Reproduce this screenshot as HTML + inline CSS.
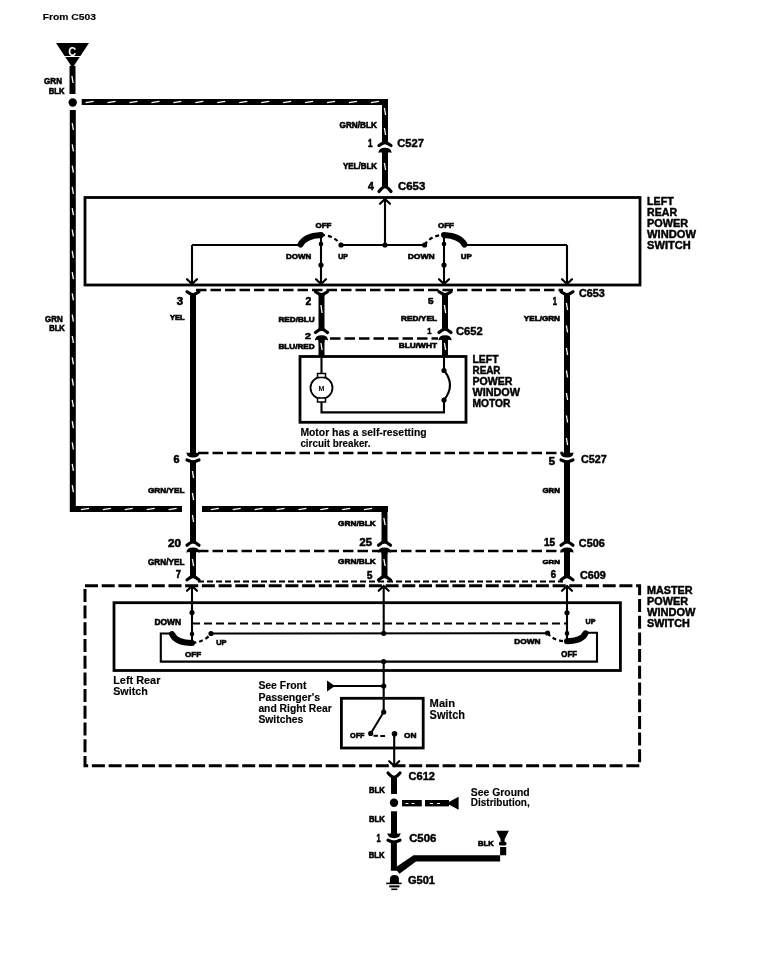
<!DOCTYPE html>
<html><head><meta charset="utf-8"><style>
html,body{margin:0;padding:0;background:#fff;width:771px;height:966px;overflow:hidden}
svg{display:block;will-change:transform}
text{font-family:"Liberation Sans",sans-serif;fill:#000}
</style></head><body>
<svg width="771" height="966" viewBox="0 0 771 966">
<rect width="771" height="966" fill="#fff"/>
<text x="42.7" y="20" font-size="9.86" font-weight="bold" textLength="53.2" lengthAdjust="spacingAndGlyphs" stroke="#000" stroke-width="0.15">From C503</text>
<path d="M56,43 L89,43 L72.5,68 Z" fill="#000"/>
<line x1="61" y1="56.5" x2="84" y2="56.5" stroke="#fff" stroke-width="1" stroke-linecap="butt"/>
<text x="68.3" y="55.6" font-size="12.5" font-weight="bold" style="fill:#fff" textLength="8" lengthAdjust="spacingAndGlyphs">C</text>
<line x1="72.5" y1="66" x2="72.5" y2="94" stroke="#000" stroke-width="6" stroke-linecap="butt"/>
<line x1="71.9" y1="76" x2="73.1" y2="83" stroke="#fff" stroke-width="1.3"/>
<text x="44" y="84" font-size="8.70" font-weight="bold" textLength="18.0" lengthAdjust="spacingAndGlyphs" stroke="#000" stroke-width="0.6">GRN</text>
<text x="48.8" y="94.3" font-size="8.26" font-weight="bold" textLength="15.6" lengthAdjust="spacingAndGlyphs" stroke="#000" stroke-width="0.6">BLK</text>
<circle cx="72.7" cy="102.5" r="4.2" fill="#000"/>
<line x1="72.8" y1="110" x2="72.8" y2="512" stroke="#000" stroke-width="6" stroke-linecap="butt"/>
<line x1="72.2" y1="123" x2="73.39999999999999" y2="130" stroke="#fff" stroke-width="1.3"/>
<line x1="72.2" y1="144.3" x2="73.39999999999999" y2="151.3" stroke="#fff" stroke-width="1.3"/>
<line x1="72.2" y1="165.60000000000002" x2="73.39999999999999" y2="172.60000000000002" stroke="#fff" stroke-width="1.3"/>
<line x1="72.2" y1="186.90000000000003" x2="73.39999999999999" y2="193.90000000000003" stroke="#fff" stroke-width="1.3"/>
<line x1="72.2" y1="208.20000000000005" x2="73.39999999999999" y2="215.20000000000005" stroke="#fff" stroke-width="1.3"/>
<line x1="72.2" y1="229.50000000000006" x2="73.39999999999999" y2="236.50000000000006" stroke="#fff" stroke-width="1.3"/>
<line x1="72.2" y1="250.80000000000007" x2="73.39999999999999" y2="257.80000000000007" stroke="#fff" stroke-width="1.3"/>
<line x1="72.2" y1="272.1000000000001" x2="73.39999999999999" y2="279.1000000000001" stroke="#fff" stroke-width="1.3"/>
<line x1="72.2" y1="293.4000000000001" x2="73.39999999999999" y2="300.4000000000001" stroke="#fff" stroke-width="1.3"/>
<line x1="72.2" y1="314.7000000000001" x2="73.39999999999999" y2="321.7000000000001" stroke="#fff" stroke-width="1.3"/>
<line x1="72.2" y1="336.0000000000001" x2="73.39999999999999" y2="343.0000000000001" stroke="#fff" stroke-width="1.3"/>
<line x1="72.2" y1="357.3000000000001" x2="73.39999999999999" y2="364.3000000000001" stroke="#fff" stroke-width="1.3"/>
<line x1="72.2" y1="378.60000000000014" x2="73.39999999999999" y2="385.60000000000014" stroke="#fff" stroke-width="1.3"/>
<line x1="72.2" y1="399.90000000000015" x2="73.39999999999999" y2="406.90000000000015" stroke="#fff" stroke-width="1.3"/>
<line x1="72.2" y1="421.20000000000016" x2="73.39999999999999" y2="428.20000000000016" stroke="#fff" stroke-width="1.3"/>
<line x1="72.2" y1="442.50000000000017" x2="73.39999999999999" y2="449.50000000000017" stroke="#fff" stroke-width="1.3"/>
<line x1="72.2" y1="463.8000000000002" x2="73.39999999999999" y2="470.8000000000002" stroke="#fff" stroke-width="1.3"/>
<line x1="72.2" y1="485.1000000000002" x2="73.39999999999999" y2="492.1000000000002" stroke="#fff" stroke-width="1.3"/>
<text x="45" y="321.5" font-size="8.99" font-weight="bold" textLength="17.7" lengthAdjust="spacingAndGlyphs" stroke="#000" stroke-width="0.6">GRN</text>
<text x="49.2" y="331.3" font-size="8.26" font-weight="bold" textLength="15.6" lengthAdjust="spacingAndGlyphs" stroke="#000" stroke-width="0.6">BLK</text>
<line x1="81.7" y1="102" x2="388" y2="102" stroke="#000" stroke-width="6" stroke-linecap="butt"/>
<line x1="85.60000000000001" y1="102.6" x2="93.60000000000001" y2="101.4" stroke="#fff" stroke-width="1.3"/>
<line x1="107.55000000000001" y1="102.6" x2="115.55000000000001" y2="101.4" stroke="#fff" stroke-width="1.3"/>
<line x1="129.5" y1="102.6" x2="137.5" y2="101.4" stroke="#fff" stroke-width="1.3"/>
<line x1="151.45" y1="102.6" x2="159.45" y2="101.4" stroke="#fff" stroke-width="1.3"/>
<line x1="173.39999999999998" y1="102.6" x2="181.39999999999998" y2="101.4" stroke="#fff" stroke-width="1.3"/>
<line x1="195.34999999999997" y1="102.6" x2="203.34999999999997" y2="101.4" stroke="#fff" stroke-width="1.3"/>
<line x1="217.29999999999995" y1="102.6" x2="225.29999999999995" y2="101.4" stroke="#fff" stroke-width="1.3"/>
<line x1="239.24999999999994" y1="102.6" x2="247.24999999999994" y2="101.4" stroke="#fff" stroke-width="1.3"/>
<line x1="261.19999999999993" y1="102.6" x2="269.19999999999993" y2="101.4" stroke="#fff" stroke-width="1.3"/>
<line x1="283.1499999999999" y1="102.6" x2="291.1499999999999" y2="101.4" stroke="#fff" stroke-width="1.3"/>
<line x1="305.0999999999999" y1="102.6" x2="313.0999999999999" y2="101.4" stroke="#fff" stroke-width="1.3"/>
<line x1="327.0499999999999" y1="102.6" x2="335.0499999999999" y2="101.4" stroke="#fff" stroke-width="1.3"/>
<line x1="348.9999999999999" y1="102.6" x2="356.9999999999999" y2="101.4" stroke="#fff" stroke-width="1.3"/>
<line x1="370.9499999999999" y1="102.6" x2="378.9499999999999" y2="101.4" stroke="#fff" stroke-width="1.3"/>
<line x1="385" y1="99" x2="385" y2="143" stroke="#000" stroke-width="6" stroke-linecap="butt"/>
<line x1="384.4" y1="108" x2="385.6" y2="115" stroke="#fff" stroke-width="1.3"/>
<line x1="384.4" y1="128" x2="385.6" y2="135" stroke="#fff" stroke-width="1.3"/>
<text x="339.5" y="127.6" font-size="8.41" font-weight="bold" textLength="37.5" lengthAdjust="spacingAndGlyphs" stroke="#000" stroke-width="0.6">GRN/BLK</text>
<path d="M379,145.5 Q382.5,143.0 385,142.5 Q387.5,143.0 391,145.5" fill="none" stroke="#000" stroke-width="3.2" stroke-linecap="round"/>
<line x1="385" y1="141.5" x2="385" y2="144.1" stroke="#000" stroke-width="5.8" stroke-linecap="butt"/>
<text x="368" y="147" font-size="10.14" font-weight="bold" textLength="4.5" lengthAdjust="spacingAndGlyphs" stroke="#000" stroke-width="0.6">1</text>
<text x="397.2" y="147" font-size="11.59" font-weight="bold" textLength="26.8" lengthAdjust="spacingAndGlyphs" stroke="#000" stroke-width="0.45">C527</text>
<path d="M378.4,153.0 Q378.6,147.8 385,147.8 Q391.4,147.8 391.6,153.0 Q389,151.8 387.9,152.8 L387.9,154.8 L382.1,154.8 L382.1,152.8 Q381,151.8 378.4,153.0 Z" fill="#000"/>
<line x1="385" y1="151" x2="385" y2="187" stroke="#000" stroke-width="6" stroke-linecap="butt"/>
<line x1="384.4" y1="163" x2="385.6" y2="170" stroke="#fff" stroke-width="1.3"/>
<text x="343" y="169" font-size="8.70" font-weight="bold" textLength="34.0" lengthAdjust="spacingAndGlyphs" stroke="#000" stroke-width="0.6">YEL/BLK</text>
<path d="M379,191.5 Q382.5,187.0 385,186.5 Q387.5,187.0 391,191.5" fill="none" stroke="#000" stroke-width="3.2" stroke-linecap="round"/>
<line x1="385" y1="185.5" x2="385" y2="188.1" stroke="#000" stroke-width="5.8" stroke-linecap="butt"/>
<text x="368" y="190" font-size="10.14" font-weight="bold" textLength="5.8" lengthAdjust="spacingAndGlyphs" stroke="#000" stroke-width="0.6">4</text>
<text x="398" y="190.2" font-size="11.16" font-weight="bold" textLength="27.3" lengthAdjust="spacingAndGlyphs" stroke="#000" stroke-width="0.45">C653</text>
<rect x="85" y="197.5" width="555" height="87.5" fill="none" stroke="#000" stroke-width="2.8"/>
<text x="647.1" y="204.8" font-size="10.72" font-weight="bold" textLength="26.6" lengthAdjust="spacingAndGlyphs" stroke="#000" stroke-width="0.45">LEFT</text>
<text x="647.1" y="215.8" font-size="10.72" font-weight="bold" textLength="30.0" lengthAdjust="spacingAndGlyphs" stroke="#000" stroke-width="0.45">REAR</text>
<text x="647.1" y="226.8" font-size="10.72" font-weight="bold" textLength="41.0" lengthAdjust="spacingAndGlyphs" stroke="#000" stroke-width="0.45">POWER</text>
<text x="647.1" y="237.8" font-size="10.72" font-weight="bold" textLength="48.8" lengthAdjust="spacingAndGlyphs" stroke="#000" stroke-width="0.45">WINDOW</text>
<text x="647.1" y="248.8" font-size="10.72" font-weight="bold" textLength="43.6" lengthAdjust="spacingAndGlyphs" stroke="#000" stroke-width="0.45">SWITCH</text>
<polyline points="380,203.8 385,199 390,203.8" fill="none" stroke="#000" stroke-width="2.2" stroke-linecap="round" stroke-linejoin="miter"/>
<line x1="385" y1="199" x2="385" y2="245" stroke="#000" stroke-width="2.1" stroke-linecap="butt"/>
<circle cx="385" cy="245" r="2.6" fill="#000"/>
<line x1="192" y1="245" x2="300" y2="245" stroke="#000" stroke-width="2.1" stroke-linecap="butt"/>
<line x1="341" y1="245" x2="424.6" y2="245" stroke="#000" stroke-width="2.1" stroke-linecap="butt"/>
<line x1="465" y1="245" x2="567" y2="245" stroke="#000" stroke-width="2.1" stroke-linecap="butt"/>
<line x1="192" y1="245" x2="192" y2="284" stroke="#000" stroke-width="2.1" stroke-linecap="butt"/>
<polyline points="187,279.2 192,284 197,279.2" fill="none" stroke="#000" stroke-width="2.2" stroke-linecap="round" stroke-linejoin="miter"/>
<line x1="567" y1="245" x2="567" y2="284" stroke="#000" stroke-width="2.1" stroke-linecap="butt"/>
<polyline points="562,279.2 567,284 572,279.2" fill="none" stroke="#000" stroke-width="2.2" stroke-linecap="round" stroke-linejoin="miter"/>
<path d="M300.5,244.5 Q305,236 321,235" fill="none" stroke="#000" stroke-width="6" stroke-linecap="round"/>
<path d="M321,235 Q334,235 341,245" fill="none" stroke="#000" stroke-width="2.2" stroke-linecap="butt" stroke-dasharray="4,3"/>
<circle cx="341" cy="245" r="2.6" fill="#000"/>
<line x1="321" y1="235" x2="321" y2="284" stroke="#000" stroke-width="2.1" stroke-linecap="butt"/>
<polyline points="316,279.2 321,284 326,279.2" fill="none" stroke="#000" stroke-width="2.2" stroke-linecap="round" stroke-linejoin="miter"/>
<circle cx="321" cy="244" r="2.3" fill="#000"/>
<circle cx="321" cy="265" r="2.6" fill="#000"/>
<text x="315.5" y="227.8" font-size="7.39" font-weight="bold" textLength="16.0" lengthAdjust="spacingAndGlyphs" stroke="#000" stroke-width="0.6">OFF</text>
<text x="286" y="259.3" font-size="7.68" font-weight="bold" textLength="25.3" lengthAdjust="spacingAndGlyphs" stroke="#000" stroke-width="0.6">DOWN</text>
<text x="338.3" y="259" font-size="7.25" font-weight="bold" textLength="9.7" lengthAdjust="spacingAndGlyphs" stroke="#000" stroke-width="0.6">UP</text>
<path d="M444,235 Q460,236 464.5,244.5" fill="none" stroke="#000" stroke-width="6" stroke-linecap="round"/>
<path d="M424.6,245 Q431,235 444,235" fill="none" stroke="#000" stroke-width="2.2" stroke-linecap="butt" stroke-dasharray="4,3"/>
<circle cx="424.6" cy="245" r="2.6" fill="#000"/>
<line x1="444" y1="235" x2="444" y2="284" stroke="#000" stroke-width="2.1" stroke-linecap="butt"/>
<polyline points="439,279.2 444,284 449,279.2" fill="none" stroke="#000" stroke-width="2.2" stroke-linecap="round" stroke-linejoin="miter"/>
<circle cx="444" cy="244" r="2.3" fill="#000"/>
<circle cx="444" cy="265" r="2.6" fill="#000"/>
<text x="438" y="227.8" font-size="7.39" font-weight="bold" textLength="16.0" lengthAdjust="spacingAndGlyphs" stroke="#000" stroke-width="0.6">OFF</text>
<text x="407.7" y="259.3" font-size="7.68" font-weight="bold" textLength="27.0" lengthAdjust="spacingAndGlyphs" stroke="#000" stroke-width="0.6">DOWN</text>
<text x="460.8" y="259" font-size="7.25" font-weight="bold" textLength="11.0" lengthAdjust="spacingAndGlyphs" stroke="#000" stroke-width="0.6">UP</text>
<line x1="196" y1="290" x2="563" y2="290" stroke="#000" stroke-width="2.3" stroke-linecap="butt" stroke-dasharray="10.5,4"/>
<path d="M187,291.8 Q190.5,294.3 193,294.8 Q195.5,294.3 199,291.8" fill="none" stroke="#000" stroke-width="3.2" stroke-linecap="round"/>
<line x1="193" y1="293.2" x2="193" y2="295.8" stroke="#000" stroke-width="5.8" stroke-linecap="butt"/>
<path d="M315.5,291.8 Q319.0,294.3 321.5,294.8 Q324.0,294.3 327.5,291.8" fill="none" stroke="#000" stroke-width="3.2" stroke-linecap="round"/>
<line x1="321.5" y1="293.2" x2="321.5" y2="295.8" stroke="#000" stroke-width="5.8" stroke-linecap="butt"/>
<path d="M439,291.8 Q442.5,294.3 445,294.8 Q447.5,294.3 451,291.8" fill="none" stroke="#000" stroke-width="3.2" stroke-linecap="round"/>
<line x1="445" y1="293.2" x2="445" y2="295.8" stroke="#000" stroke-width="5.8" stroke-linecap="butt"/>
<path d="M561,291.8 Q564.5,294.3 567,294.8 Q569.5,294.3 573,291.8" fill="none" stroke="#000" stroke-width="3.2" stroke-linecap="round"/>
<line x1="567" y1="293.2" x2="567" y2="295.8" stroke="#000" stroke-width="5.8" stroke-linecap="butt"/>
<line x1="193" y1="294" x2="193" y2="453" stroke="#000" stroke-width="6" stroke-linecap="butt"/>
<line x1="321.5" y1="294" x2="321.5" y2="329.5" stroke="#000" stroke-width="6" stroke-linecap="butt"/>
<line x1="320.9" y1="305" x2="322.1" y2="313" stroke="#fff" stroke-width="1.3"/>
<line x1="445" y1="294" x2="445" y2="329.5" stroke="#000" stroke-width="6" stroke-linecap="butt"/>
<line x1="444.4" y1="305" x2="445.6" y2="313" stroke="#fff" stroke-width="1.3"/>
<line x1="567" y1="294" x2="567" y2="453" stroke="#000" stroke-width="6" stroke-linecap="butt"/>
<line x1="566.4" y1="303" x2="567.6" y2="310" stroke="#fff" stroke-width="1.3"/>
<line x1="566.4" y1="325.5" x2="567.6" y2="332.5" stroke="#fff" stroke-width="1.3"/>
<line x1="566.4" y1="348.0" x2="567.6" y2="355.0" stroke="#fff" stroke-width="1.3"/>
<line x1="566.4" y1="370.5" x2="567.6" y2="377.5" stroke="#fff" stroke-width="1.3"/>
<line x1="566.4" y1="393.0" x2="567.6" y2="400.0" stroke="#fff" stroke-width="1.3"/>
<line x1="566.4" y1="415.5" x2="567.6" y2="422.5" stroke="#fff" stroke-width="1.3"/>
<line x1="566.4" y1="438.0" x2="567.6" y2="445.0" stroke="#fff" stroke-width="1.3"/>
<text x="176.7" y="304.6" font-size="10.14" font-weight="bold" textLength="6.3" lengthAdjust="spacingAndGlyphs" stroke="#000" stroke-width="0.6">3</text>
<text x="170" y="320.2" font-size="6.81" font-weight="bold" textLength="14.5" lengthAdjust="spacingAndGlyphs" stroke="#000" stroke-width="0.6">YEL</text>
<text x="305.6" y="304.6" font-size="10.29" font-weight="bold" textLength="5.7" lengthAdjust="spacingAndGlyphs" stroke="#000" stroke-width="0.6">2</text>
<text x="278.4" y="321.5" font-size="7.54" font-weight="bold" textLength="36.3" lengthAdjust="spacingAndGlyphs" stroke="#000" stroke-width="0.6">RED/BLU</text>
<text x="428" y="304.3" font-size="9.13" font-weight="bold" textLength="5.5" lengthAdjust="spacingAndGlyphs" stroke="#000" stroke-width="0.6">5</text>
<text x="401" y="321" font-size="7.54" font-weight="bold" textLength="36.0" lengthAdjust="spacingAndGlyphs" stroke="#000" stroke-width="0.6">RED/YEL</text>
<text x="552.8" y="305" font-size="10.14" font-weight="bold" textLength="4.2" lengthAdjust="spacingAndGlyphs" stroke="#000" stroke-width="0.6">1</text>
<text x="523.8" y="321" font-size="7.25" font-weight="bold" textLength="36.2" lengthAdjust="spacingAndGlyphs" stroke="#000" stroke-width="0.6">YEL/GRN</text>
<text x="579" y="297" font-size="10.14" font-weight="bold" textLength="25.7" lengthAdjust="spacingAndGlyphs" stroke="#000" stroke-width="0.45">C653</text>
<path d="M315.5,332.5 Q319.0,329.5 321.5,329 Q324.0,329.5 327.5,332.5" fill="none" stroke="#000" stroke-width="3.2" stroke-linecap="round"/>
<line x1="321.5" y1="328" x2="321.5" y2="330.6" stroke="#000" stroke-width="5.8" stroke-linecap="butt"/>
<path d="M314.9,340.4 Q315.1,335.2 321.5,335.2 Q327.9,335.2 328.1,340.4 Q325.5,339.2 324.4,340.2 L324.4,342.2 L318.6,342.2 L318.6,340.2 Q317.5,339.2 314.9,340.4 Z" fill="#000"/>
<line x1="321.5" y1="339" x2="321.5" y2="356.5" stroke="#000" stroke-width="6" stroke-linecap="butt"/>
<line x1="320.9" y1="343" x2="322.1" y2="350" stroke="#fff" stroke-width="1.3"/>
<path d="M439,332.5 Q442.5,329.5 445,329 Q447.5,329.5 451,332.5" fill="none" stroke="#000" stroke-width="3.2" stroke-linecap="round"/>
<line x1="445" y1="328" x2="445" y2="330.6" stroke="#000" stroke-width="5.8" stroke-linecap="butt"/>
<path d="M438.4,340.4 Q438.6,335.2 445,335.2 Q451.4,335.2 451.6,340.4 Q449,339.2 447.9,340.2 L447.9,342.2 L442.1,342.2 L442.1,340.2 Q441,339.2 438.4,340.4 Z" fill="#000"/>
<line x1="445" y1="339" x2="445" y2="356.5" stroke="#000" stroke-width="6" stroke-linecap="butt"/>
<line x1="444.4" y1="343" x2="445.6" y2="350" stroke="#fff" stroke-width="1.3"/>
<line x1="330" y1="338.5" x2="438" y2="338.5" stroke="#000" stroke-width="2.3" stroke-linecap="butt" stroke-dasharray="10.5,4"/>
<text x="305" y="338.5" font-size="9.42" font-weight="bold" textLength="6.0" lengthAdjust="spacingAndGlyphs" stroke="#000" stroke-width="0.6">2</text>
<text x="278.4" y="348.7" font-size="7.54" font-weight="bold" textLength="36.3" lengthAdjust="spacingAndGlyphs" stroke="#000" stroke-width="0.6">BLU/RED</text>
<text x="427.3" y="333.5" font-size="9.86" font-weight="bold" textLength="4.2" lengthAdjust="spacingAndGlyphs" stroke="#000" stroke-width="0.6">1</text>
<text x="398.7" y="348.3" font-size="7.10" font-weight="bold" textLength="38.3" lengthAdjust="spacingAndGlyphs" stroke="#000" stroke-width="0.6">BLU/WHT</text>
<text x="456" y="335" font-size="11.59" font-weight="bold" textLength="26.7" lengthAdjust="spacingAndGlyphs" stroke="#000" stroke-width="0.45">C652</text>
<rect x="300" y="356.5" width="166" height="65.80000000000001" fill="none" stroke="#000" stroke-width="2.8"/>
<text x="472.5" y="363.4" font-size="10.29" font-weight="bold" textLength="26.0" lengthAdjust="spacingAndGlyphs" stroke="#000" stroke-width="0.45">LEFT</text>
<text x="472.5" y="374.4" font-size="10.29" font-weight="bold" textLength="28.0" lengthAdjust="spacingAndGlyphs" stroke="#000" stroke-width="0.45">REAR</text>
<text x="472.5" y="385.4" font-size="10.29" font-weight="bold" textLength="40.0" lengthAdjust="spacingAndGlyphs" stroke="#000" stroke-width="0.45">POWER</text>
<text x="472.5" y="396.4" font-size="10.29" font-weight="bold" textLength="47.5" lengthAdjust="spacingAndGlyphs" stroke="#000" stroke-width="0.45">WINDOW</text>
<text x="472.5" y="407.4" font-size="10.29" font-weight="bold" textLength="38.0" lengthAdjust="spacingAndGlyphs" stroke="#000" stroke-width="0.45">MOTOR</text>
<line x1="321.5" y1="356.5" x2="321.5" y2="375" stroke="#000" stroke-width="2.1" stroke-linecap="butt"/>
<circle cx="321.5" cy="387.8" r="11" fill="#fff" stroke="#000" stroke-width="1.8"/>
<rect x="317.5" y="373.5" width="8" height="4" fill="#fff" stroke="#000" stroke-width="1.5"/>
<rect x="317.5" y="398" width="8" height="4" fill="#fff" stroke="#000" stroke-width="1.5"/>
<text x="321.5" y="391" font-size="7" font-weight="bold" text-anchor="middle">M</text>
<polyline points="321.5,402 321.5,412.4 444,412.4 444,400" fill="none" stroke="#000" stroke-width="2.1" stroke-linecap="butt" stroke-linejoin="miter"/>
<line x1="444" y1="356.5" x2="444" y2="370.5" stroke="#000" stroke-width="2.1" stroke-linecap="butt"/>
<circle cx="444" cy="370.5" r="2.6" fill="#000"/>
<circle cx="444" cy="400" r="2.6" fill="#000"/>
<path d="M444,370.5 Q456,385 444,400" fill="none" stroke="#000" stroke-width="2.1" stroke-linecap="butt"/>
<text x="300.4" y="436" font-size="10.58" font-weight="bold" textLength="126.2" lengthAdjust="spacingAndGlyphs" stroke="#000" stroke-width="0.15">Motor has a self-resetting</text>
<text x="300.4" y="446.9" font-size="10.72" font-weight="bold" textLength="70.0" lengthAdjust="spacingAndGlyphs" stroke="#000" stroke-width="0.15">circuit breaker.</text>
<line x1="198" y1="453" x2="563" y2="453" stroke="#000" stroke-width="2.3" stroke-linecap="butt" stroke-dasharray="10.5,4"/>
<path d="M186.4,452.3 Q186.6,457.5 193,457.5 Q199.4,457.5 199.6,452.3 Q197,453.5 195.9,452.5 L195.9,450.5 L190.1,450.5 L190.1,452.5 Q189,453.5 186.4,452.3 Z" fill="#000"/>
<path d="M187,460.0 Q190.5,461.5 193,462.0 Q195.5,461.5 199,460.0" fill="none" stroke="#000" stroke-width="3.2" stroke-linecap="round"/>
<line x1="193" y1="460.4" x2="193" y2="463.0" stroke="#000" stroke-width="5.8" stroke-linecap="butt"/>
<path d="M560.4,452.3 Q560.6,457.5 567,457.5 Q573.4,457.5 573.6,452.3 Q571,453.5 569.9,452.5 L569.9,450.5 L564.1,450.5 L564.1,452.5 Q563,453.5 560.4,452.3 Z" fill="#000"/>
<path d="M561,460.0 Q564.5,461.5 567,462.0 Q569.5,461.5 573,460.0" fill="none" stroke="#000" stroke-width="3.2" stroke-linecap="round"/>
<line x1="567" y1="460.4" x2="567" y2="463.0" stroke="#000" stroke-width="5.8" stroke-linecap="butt"/>
<text x="173.5" y="463" font-size="10.87" font-weight="bold" textLength="6.0" lengthAdjust="spacingAndGlyphs" stroke="#000" stroke-width="0.6">6</text>
<text x="548.8" y="465" font-size="10.14" font-weight="bold" textLength="6.2" lengthAdjust="spacingAndGlyphs" stroke="#000" stroke-width="0.6">5</text>
<text x="581" y="463.2" font-size="10.87" font-weight="bold" textLength="25.8" lengthAdjust="spacingAndGlyphs" stroke="#000" stroke-width="0.45">C527</text>
<line x1="193" y1="461" x2="193" y2="542" stroke="#000" stroke-width="6" stroke-linecap="butt"/>
<line x1="192.4" y1="471" x2="193.6" y2="478" stroke="#fff" stroke-width="1.3"/>
<line x1="192.4" y1="493" x2="193.6" y2="500" stroke="#fff" stroke-width="1.3"/>
<line x1="192.4" y1="515" x2="193.6" y2="522" stroke="#fff" stroke-width="1.3"/>
<line x1="567" y1="461" x2="567" y2="542" stroke="#000" stroke-width="6" stroke-linecap="butt"/>
<text x="148" y="492.6" font-size="8.12" font-weight="bold" textLength="36.4" lengthAdjust="spacingAndGlyphs" stroke="#000" stroke-width="0.6">GRN/YEL</text>
<text x="542.5" y="492.6" font-size="6.67" font-weight="bold" textLength="17.5" lengthAdjust="spacingAndGlyphs" stroke="#000" stroke-width="0.6">GRN</text>
<line x1="70" y1="509" x2="182" y2="509" stroke="#000" stroke-width="6" stroke-linecap="butt"/>
<line x1="81" y1="509.6" x2="89" y2="508.4" stroke="#fff" stroke-width="1.3"/>
<line x1="102.9" y1="509.6" x2="110.9" y2="508.4" stroke="#fff" stroke-width="1.3"/>
<line x1="124.80000000000001" y1="509.6" x2="132.8" y2="508.4" stroke="#fff" stroke-width="1.3"/>
<line x1="146.70000000000002" y1="509.6" x2="154.70000000000002" y2="508.4" stroke="#fff" stroke-width="1.3"/>
<line x1="168.60000000000002" y1="509.6" x2="176.60000000000002" y2="508.4" stroke="#fff" stroke-width="1.3"/>
<line x1="202" y1="509" x2="388" y2="509" stroke="#000" stroke-width="6" stroke-linecap="butt"/>
<line x1="210.8" y1="509.6" x2="218.8" y2="508.4" stroke="#fff" stroke-width="1.3"/>
<line x1="232.70000000000002" y1="509.6" x2="240.70000000000002" y2="508.4" stroke="#fff" stroke-width="1.3"/>
<line x1="254.60000000000002" y1="509.6" x2="262.6" y2="508.4" stroke="#fff" stroke-width="1.3"/>
<line x1="276.5" y1="509.6" x2="284.5" y2="508.4" stroke="#fff" stroke-width="1.3"/>
<line x1="298.4" y1="509.6" x2="306.4" y2="508.4" stroke="#fff" stroke-width="1.3"/>
<line x1="320.29999999999995" y1="509.6" x2="328.29999999999995" y2="508.4" stroke="#fff" stroke-width="1.3"/>
<line x1="342.19999999999993" y1="509.6" x2="350.19999999999993" y2="508.4" stroke="#fff" stroke-width="1.3"/>
<line x1="364.0999999999999" y1="509.6" x2="372.0999999999999" y2="508.4" stroke="#fff" stroke-width="1.3"/>
<line x1="384.5" y1="506" x2="384.5" y2="542" stroke="#000" stroke-width="6" stroke-linecap="butt"/>
<line x1="383.9" y1="518" x2="385.1" y2="525" stroke="#fff" stroke-width="1.3"/>
<text x="338" y="525.5" font-size="7.39" font-weight="bold" textLength="37.8" lengthAdjust="spacingAndGlyphs" stroke="#000" stroke-width="0.6">GRN/BLK</text>
<line x1="198" y1="551" x2="563" y2="551" stroke="#000" stroke-width="2.3" stroke-linecap="butt" stroke-dasharray="10.5,4"/>
<path d="M187,545.2 Q190.5,542.2 193,541.7 Q195.5,542.2 199,545.2" fill="none" stroke="#000" stroke-width="3.2" stroke-linecap="round"/>
<line x1="193" y1="540.7" x2="193" y2="543.3000000000001" stroke="#000" stroke-width="5.8" stroke-linecap="butt"/>
<path d="M186.4,552.7 Q186.6,547.5 193,547.5 Q199.4,547.5 199.6,552.7 Q197,551.5 195.9,552.5 L195.9,554.5 L190.1,554.5 L190.1,552.5 Q189,551.5 186.4,552.7 Z" fill="#000"/>
<path d="M378.5,545.2 Q382.0,542.2 384.5,541.7 Q387.0,542.2 390.5,545.2" fill="none" stroke="#000" stroke-width="3.2" stroke-linecap="round"/>
<line x1="384.5" y1="540.7" x2="384.5" y2="543.3000000000001" stroke="#000" stroke-width="5.8" stroke-linecap="butt"/>
<path d="M377.9,552.7 Q378.1,547.5 384.5,547.5 Q390.9,547.5 391.1,552.7 Q388.5,551.5 387.4,552.5 L387.4,554.5 L381.6,554.5 L381.6,552.5 Q380.5,551.5 377.9,552.7 Z" fill="#000"/>
<path d="M561,545.2 Q564.5,542.2 567,541.7 Q569.5,542.2 573,545.2" fill="none" stroke="#000" stroke-width="3.2" stroke-linecap="round"/>
<line x1="567" y1="540.7" x2="567" y2="543.3000000000001" stroke="#000" stroke-width="5.8" stroke-linecap="butt"/>
<path d="M560.4,552.7 Q560.6,547.5 567,547.5 Q573.4,547.5 573.6,552.7 Q571,551.5 569.9,552.5 L569.9,554.5 L564.1,554.5 L564.1,552.5 Q563,551.5 560.4,552.7 Z" fill="#000"/>
<text x="168" y="546.6" font-size="11.30" font-weight="bold" textLength="13.0" lengthAdjust="spacingAndGlyphs" stroke="#000" stroke-width="0.6">20</text>
<text x="359.6" y="546" font-size="10.14" font-weight="bold" textLength="12.4" lengthAdjust="spacingAndGlyphs" stroke="#000" stroke-width="0.6">25</text>
<text x="544" y="546" font-size="10.58" font-weight="bold" textLength="11.0" lengthAdjust="spacingAndGlyphs" stroke="#000" stroke-width="0.6">15</text>
<text x="578.8" y="546.5" font-size="10.87" font-weight="bold" textLength="26.0" lengthAdjust="spacingAndGlyphs" stroke="#000" stroke-width="0.45">C506</text>
<line x1="193" y1="551" x2="193" y2="577" stroke="#000" stroke-width="6" stroke-linecap="butt"/>
<line x1="192.4" y1="559" x2="193.6" y2="566" stroke="#fff" stroke-width="1.3"/>
<line x1="384.5" y1="551" x2="384.5" y2="577" stroke="#000" stroke-width="6" stroke-linecap="butt"/>
<line x1="383.9" y1="559" x2="385.1" y2="566" stroke="#fff" stroke-width="1.3"/>
<line x1="567" y1="551" x2="567" y2="577" stroke="#000" stroke-width="6" stroke-linecap="butt"/>
<text x="148" y="564.7" font-size="8.55" font-weight="bold" textLength="36.4" lengthAdjust="spacingAndGlyphs" stroke="#000" stroke-width="0.6">GRN/YEL</text>
<text x="338" y="564.4" font-size="7.39" font-weight="bold" textLength="37.8" lengthAdjust="spacingAndGlyphs" stroke="#000" stroke-width="0.6">GRN/BLK</text>
<text x="542.5" y="563.6" font-size="6.09" font-weight="bold" textLength="17.5" lengthAdjust="spacingAndGlyphs" stroke="#000" stroke-width="0.6">GRN</text>
<line x1="198" y1="581.5" x2="563" y2="581.5" stroke="#000" stroke-width="1.8" stroke-linecap="butt" stroke-dasharray="6,3"/>
<path d="M187,579.9 Q190.5,576.9 193,576.4 Q195.5,576.9 199,579.9" fill="none" stroke="#000" stroke-width="3.2" stroke-linecap="round"/>
<line x1="193" y1="575.4" x2="193" y2="578.0" stroke="#000" stroke-width="5.8" stroke-linecap="butt"/>
<path d="M378.5,579.9 Q382.0,576.9 384.5,576.4 Q387.0,576.9 390.5,579.9" fill="none" stroke="#000" stroke-width="3.2" stroke-linecap="round"/>
<line x1="384.5" y1="575.4" x2="384.5" y2="578.0" stroke="#000" stroke-width="5.8" stroke-linecap="butt"/>
<path d="M561,579.9 Q564.5,576.9 567,576.4 Q569.5,576.9 573,579.9" fill="none" stroke="#000" stroke-width="3.2" stroke-linecap="round"/>
<line x1="567" y1="575.4" x2="567" y2="578.0" stroke="#000" stroke-width="5.8" stroke-linecap="butt"/>
<text x="175.8" y="578.2" font-size="11.16" font-weight="bold" textLength="5.2" lengthAdjust="spacingAndGlyphs" stroke="#000" stroke-width="0.6">7</text>
<text x="367" y="578.7" font-size="10.43" font-weight="bold" textLength="5.4" lengthAdjust="spacingAndGlyphs" stroke="#000" stroke-width="0.6">5</text>
<text x="550.8" y="578.2" font-size="10.43" font-weight="bold" textLength="5.2" lengthAdjust="spacingAndGlyphs" stroke="#000" stroke-width="0.6">6</text>
<text x="580" y="579" font-size="10.14" font-weight="bold" textLength="25.8" lengthAdjust="spacingAndGlyphs" stroke="#000" stroke-width="0.45">C609</text>
<rect x="85" y="585.8" width="554.6" height="179.9000000000001" fill="none" stroke="#000" stroke-width="3" stroke-dasharray="13,3.7"/>
<text x="647" y="593.6" font-size="10.58" font-weight="bold" textLength="45.6" lengthAdjust="spacingAndGlyphs" stroke="#000" stroke-width="0.45">MASTER</text>
<text x="647" y="604.8000000000001" font-size="10.58" font-weight="bold" textLength="41.0" lengthAdjust="spacingAndGlyphs" stroke="#000" stroke-width="0.45">POWER</text>
<text x="647" y="616.0" font-size="10.58" font-weight="bold" textLength="48.4" lengthAdjust="spacingAndGlyphs" stroke="#000" stroke-width="0.45">WINDOW</text>
<text x="647" y="627.2" font-size="10.58" font-weight="bold" textLength="42.8" lengthAdjust="spacingAndGlyphs" stroke="#000" stroke-width="0.45">SWITCH</text>
<rect x="114" y="602.7" width="506.4" height="67.79999999999995" fill="none" stroke="#000" stroke-width="2.8"/>
<polyline points="187,590.8 192,586 197,590.8" fill="none" stroke="#000" stroke-width="2.2" stroke-linecap="round" stroke-linejoin="miter"/>
<polyline points="378.7,590.8 383.7,586 388.7,590.8" fill="none" stroke="#000" stroke-width="2.2" stroke-linecap="round" stroke-linejoin="miter"/>
<polyline points="562,590.8 567,586 572,590.8" fill="none" stroke="#000" stroke-width="2.2" stroke-linecap="round" stroke-linejoin="miter"/>
<line x1="192" y1="586" x2="192" y2="643" stroke="#000" stroke-width="2.1" stroke-linecap="butt"/>
<circle cx="192" cy="612.6" r="2.6" fill="#000"/>
<circle cx="192" cy="634" r="2.3" fill="#000"/>
<path d="M172,634 Q176,643 192,643" fill="none" stroke="#000" stroke-width="6" stroke-linecap="round"/>
<path d="M192,643 Q205,642 211,633.5" fill="none" stroke="#000" stroke-width="2.2" stroke-linecap="butt" stroke-dasharray="4,3"/>
<circle cx="211" cy="633.5" r="2.6" fill="#000"/>
<polyline points="171.6,633.5 160.8,633.5 160.8,661.6 597,661.6 597,632.8 586,632.8" fill="none" stroke="#000" stroke-width="2.1" stroke-linecap="butt" stroke-linejoin="miter"/>
<line x1="211" y1="633.5" x2="547.6" y2="633.3" stroke="#000" stroke-width="2.1" stroke-linecap="butt"/>
<circle cx="547.6" cy="633" r="2.6" fill="#000"/>
<path d="M547.6,633 Q553,641 567,641.3" fill="none" stroke="#000" stroke-width="2.2" stroke-linecap="butt" stroke-dasharray="4,3"/>
<path d="M567,641.3 Q582,641 585.5,633.3" fill="none" stroke="#000" stroke-width="6" stroke-linecap="round"/>
<line x1="567" y1="586" x2="567" y2="641.3" stroke="#000" stroke-width="2.1" stroke-linecap="butt"/>
<circle cx="567" cy="612.8" r="2.6" fill="#000"/>
<circle cx="567" cy="633.4" r="2.3" fill="#000"/>
<line x1="192" y1="623.5" x2="567" y2="623.5" stroke="#000" stroke-width="1.8" stroke-linecap="butt" stroke-dasharray="8,4"/>
<line x1="383.7" y1="586" x2="383.7" y2="633.3" stroke="#000" stroke-width="2.1" stroke-linecap="butt"/>
<circle cx="383.7" cy="633.3" r="2.6" fill="#000"/>
<circle cx="383.7" cy="661.5" r="2.6" fill="#000"/>
<text x="154.4" y="624.9" font-size="8.55" font-weight="bold" textLength="26.6" lengthAdjust="spacingAndGlyphs" stroke="#000" stroke-width="0.6">DOWN</text>
<text x="216.2" y="645" font-size="8.12" font-weight="bold" textLength="10.4" lengthAdjust="spacingAndGlyphs" stroke="#000" stroke-width="0.6">UP</text>
<text x="185" y="656.8" font-size="8.12" font-weight="bold" textLength="16.2" lengthAdjust="spacingAndGlyphs" stroke="#000" stroke-width="0.6">OFF</text>
<text x="585.6" y="624.2" font-size="7.54" font-weight="bold" textLength="9.9" lengthAdjust="spacingAndGlyphs" stroke="#000" stroke-width="0.6">UP</text>
<text x="514.2" y="644.2" font-size="7.54" font-weight="bold" textLength="26.3" lengthAdjust="spacingAndGlyphs" stroke="#000" stroke-width="0.6">DOWN</text>
<text x="561.3" y="656.5" font-size="8.26" font-weight="bold" textLength="15.7" lengthAdjust="spacingAndGlyphs" stroke="#000" stroke-width="0.6">OFF</text>
<text x="113.2" y="684.1" font-size="10.87" font-weight="bold" textLength="47.2" lengthAdjust="spacingAndGlyphs" stroke="#000" stroke-width="0.15">Left Rear</text>
<text x="113.2" y="695" font-size="11.59" font-weight="bold" textLength="34.5" lengthAdjust="spacingAndGlyphs" stroke="#000" stroke-width="0.15">Switch</text>
<line x1="383.7" y1="661.5" x2="383.7" y2="712" stroke="#000" stroke-width="2.1" stroke-linecap="butt"/>
<circle cx="383.7" cy="686" r="2.6" fill="#000"/>
<line x1="333" y1="686" x2="383.7" y2="686" stroke="#000" stroke-width="2.1" stroke-linecap="butt"/>
<path d="M327,680.5 L335,686 L327,691.5 Z" fill="#000"/>
<rect x="341.4" y="698.3" width="81.80000000000001" height="49.700000000000045" fill="none" stroke="#000" stroke-width="2.8"/>
<circle cx="383.7" cy="712" r="2.6" fill="#000"/>
<line x1="383.7" y1="712" x2="370.7" y2="733.4" stroke="#000" stroke-width="2" stroke-linecap="butt"/>
<circle cx="370.7" cy="733.4" r="2.6" fill="#000"/>
<line x1="373.5" y1="735.8" x2="378" y2="735.8" stroke="#000" stroke-width="2" stroke-linecap="butt"/>
<line x1="380.3" y1="736" x2="385" y2="736" stroke="#000" stroke-width="2" stroke-linecap="butt"/>
<circle cx="394.5" cy="733.8" r="2.8" fill="#000"/>
<line x1="394.2" y1="733.8" x2="394.2" y2="765" stroke="#000" stroke-width="2.1" stroke-linecap="butt"/>
<polyline points="389.2,761.2 394.2,766 399.2,761.2" fill="none" stroke="#000" stroke-width="2.2" stroke-linecap="round" stroke-linejoin="miter"/>
<text x="350" y="737.8" font-size="8.12" font-weight="bold" textLength="14.5" lengthAdjust="spacingAndGlyphs" stroke="#000" stroke-width="0.6">OFF</text>
<text x="404" y="737.8" font-size="8.12" font-weight="bold" textLength="12.5" lengthAdjust="spacingAndGlyphs" stroke="#000" stroke-width="0.6">ON</text>
<text x="258.4" y="688.8" font-size="11.30" font-weight="bold" textLength="48.0" lengthAdjust="spacingAndGlyphs" stroke="#000" stroke-width="0.15">See Front</text>
<text x="258.4" y="700.5" font-size="10.43" font-weight="bold" textLength="61.6" lengthAdjust="spacingAndGlyphs" stroke="#000" stroke-width="0.15">Passenger's</text>
<text x="258.4" y="711.5" font-size="10.58" font-weight="bold" textLength="73.3" lengthAdjust="spacingAndGlyphs" stroke="#000" stroke-width="0.15">and Right Rear</text>
<text x="258.4" y="722.5" font-size="10.58" font-weight="bold" textLength="44.8" lengthAdjust="spacingAndGlyphs" stroke="#000" stroke-width="0.15">Switches</text>
<text x="429.6" y="707.4" font-size="10.58" font-weight="bold" textLength="25.4" lengthAdjust="spacingAndGlyphs" stroke="#000" stroke-width="0.15">Main</text>
<text x="429.6" y="718.8" font-size="12.03" font-weight="bold" textLength="35.5" lengthAdjust="spacingAndGlyphs" stroke="#000" stroke-width="0.15">Switch</text>
<path d="M388,773.0 Q391.5,777.0 394,777.5 Q396.5,777.0 400,773.0" fill="none" stroke="#000" stroke-width="3.2" stroke-linecap="round"/>
<line x1="394" y1="775.9" x2="394" y2="778.5" stroke="#000" stroke-width="5.8" stroke-linecap="butt"/>
<line x1="394" y1="777" x2="394" y2="794" stroke="#000" stroke-width="6" stroke-linecap="butt"/>
<text x="408.5" y="780" font-size="11.16" font-weight="bold" textLength="26.5" lengthAdjust="spacingAndGlyphs" stroke="#000" stroke-width="0.45">C612</text>
<text x="368.9" y="792.7" font-size="8.55" font-weight="bold" textLength="15.9" lengthAdjust="spacingAndGlyphs" stroke="#000" stroke-width="0.6">BLK</text>
<circle cx="394" cy="802.8" r="4.2" fill="#000"/>
<line x1="402" y1="803.2" x2="421.8" y2="803.2" stroke="#000" stroke-width="6.4" stroke-linecap="butt"/>
<line x1="425" y1="803.2" x2="449" y2="803.2" stroke="#000" stroke-width="6.4" stroke-linecap="butt"/>
<line x1="405.5" y1="803.5" x2="408.5" y2="803.5" stroke="#fff" stroke-width="1" stroke-linecap="butt"/>
<line x1="411.5" y1="803.5" x2="414.5" y2="803.5" stroke="#fff" stroke-width="1" stroke-linecap="butt"/>
<line x1="430" y1="803.5" x2="433" y2="803.5" stroke="#fff" stroke-width="1" stroke-linecap="butt"/>
<line x1="437" y1="803.5" x2="440" y2="803.5" stroke="#fff" stroke-width="1" stroke-linecap="butt"/>
<path d="M446.5,803.2 L458.6,796.7 L458.6,809.7 Z" fill="#000"/>
<text x="470.8" y="795.6" font-size="11.16" font-weight="bold" textLength="58.9" lengthAdjust="spacingAndGlyphs" stroke="#000" stroke-width="0.15">See Ground</text>
<text x="470.8" y="806.3" font-size="11.16" font-weight="bold" textLength="58.9" lengthAdjust="spacingAndGlyphs" stroke="#000" stroke-width="0.15">Distribution,</text>
<line x1="394" y1="811.3" x2="394" y2="833" stroke="#000" stroke-width="6" stroke-linecap="butt"/>
<text x="368.9" y="822.2" font-size="8.70" font-weight="bold" textLength="15.9" lengthAdjust="spacingAndGlyphs" stroke="#000" stroke-width="0.6">BLK</text>
<path d="M387.4,833.0999999999999 Q387.6,838.3 394,838.3 Q400.4,838.3 400.6,833.0999999999999 Q398,834.3 396.9,833.3 L396.9,831.3 L391.1,831.3 L391.1,833.3 Q390,834.3 387.4,833.0999999999999 Z" fill="#000"/>
<path d="M388,840.2 Q391.5,841.7 394,842.2 Q396.5,841.7 400,840.2" fill="none" stroke="#000" stroke-width="3.2" stroke-linecap="round"/>
<line x1="394" y1="840.6" x2="394" y2="843.2" stroke="#000" stroke-width="5.8" stroke-linecap="butt"/>
<text x="376.6" y="841.8" font-size="10.58" font-weight="bold" textLength="4.1" lengthAdjust="spacingAndGlyphs" stroke="#000" stroke-width="0.6">1</text>
<text x="409.2" y="841.8" font-size="10.58" font-weight="bold" textLength="27.1" lengthAdjust="spacingAndGlyphs" stroke="#000" stroke-width="0.45">C506</text>
<text x="368.7" y="857.8" font-size="8.41" font-weight="bold" textLength="15.8" lengthAdjust="spacingAndGlyphs" stroke="#000" stroke-width="0.6">BLK</text>
<path d="M390.9,841 L396.9,841 L396.9,866.5 L413.5,855.3 L506.2,855.3 L506.2,847 L500.1,847 L500.1,861.5 L416,861.5 L399.5,873.8 L396.9,870.8 L390.9,870.8 Z" fill="#000"/>
<path d="M496.3,830.7 L508.9,830.7 L504.6,839.3 L500.6,839.3 Z" fill="#000"/>
<path d="M500.6,838.5 L504.6,838.5 L504.6,841.8 Q506.6,842 506.6,843.8 Q506.6,845.6 504.6,845.6 L500.6,845.6 Q498.8,845.6 498.8,843.8 Q498.8,842 500.6,841.8 Z" fill="#000"/>
<text x="478.1" y="845.8" font-size="6.96" font-weight="bold" textLength="15.6" lengthAdjust="spacingAndGlyphs" stroke="#000" stroke-width="0.6">BLK</text>
<path d="M389.9,883.6 L389.9,879 Q390,875 394.4,875 Q398.9,875 398.9,879 L398.9,883.6 Z" fill="#000"/>
<line x1="386.2" y1="883.4" x2="401.7" y2="883.4" stroke="#000" stroke-width="1.6" stroke-linecap="butt"/>
<line x1="389.3" y1="886.4" x2="399.4" y2="886.4" stroke="#000" stroke-width="2" stroke-linecap="butt"/>
<line x1="391.3" y1="889.3" x2="397.3" y2="889.3" stroke="#000" stroke-width="1.6" stroke-linecap="butt"/>
<text x="408" y="884.3" font-size="10.58" font-weight="bold" textLength="27.0" lengthAdjust="spacingAndGlyphs" stroke="#000" stroke-width="0.45">G501</text>
</svg></body></html>
